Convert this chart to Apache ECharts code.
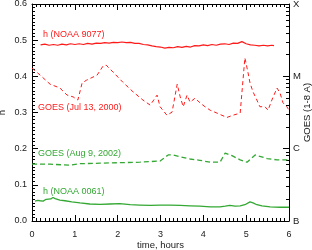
<!DOCTYPE html>
<html><head><meta charset="utf-8">
<script src="https://cdn.jsdelivr.net/npm/echarts@6/dist/echarts.min.js"></script>
<style>html,body{margin:0;padding:0;background:#fff}#c{width:312px;height:250px}</style>
</head><body><div id="c"></div>
<script>
// time axis (hours)
const xTicks = [0, 1, 2, 3, 4, 5, 6];
const hTicks = [0.0, 0.1, 0.2, 0.3, 0.4, 0.5, 0.6];
const goesClassLabels = {'-7': 'B', '-6': 'C', '-5': 'M', '-4': 'X'};

// h (NOAA 9077), red solid
const h9077Time = [0.2,0.3,0.4,0.5,0.6,0.7,0.8,0.9,1.0,1.1,1.2,1.3,1.4,1.5,1.6,1.7,1.8,1.9,2.0,2.1,2.2,2.3,2.4,2.5,2.6,2.7,2.8,2.9,3.0,3.1,3.2,3.3,3.4,3.5,3.6,3.7,3.8,3.9,4.0,4.1,4.2,4.3,4.4,4.5,4.6,4.7,4.8,4.9,5.0,5.1,5.2,5.3,5.4,5.5,5.6,5.65];
const h9077 = [0.487,0.489,0.486,0.488,0.486,0.489,0.487,0.490,0.488,0.490,0.488,0.491,0.489,0.492,0.491,0.493,0.492,0.494,0.493,0.495,0.493,0.494,0.491,0.491,0.488,0.487,0.484,0.482,0.481,0.478,0.480,0.479,0.482,0.480,0.483,0.481,0.485,0.484,0.487,0.485,0.488,0.486,0.489,0.490,0.488,0.492,0.491,0.496,0.490,0.487,0.486,0.484,0.486,0.484,0.486,0.485];

// GOES 1-8 A flux (W/m^2), Jul 13 2000, red dashed
const goes2000Time = [0.00,0.19,0.42,0.65,0.82,0.96,1.07,1.17,1.28,1.52,1.66,1.73,1.89,2.12,2.36,2.59,2.76,2.92,2.99,3.15,3.27,3.39,3.46,3.53,3.62,3.69,3.81,3.92,4.04,4.16,4.32,4.55,4.69,4.86,4.97,5.04,5.09,5.16,5.25,5.32,5.44,5.51,5.60,5.72,5.79,5.86,5.95,6.00];
const goes2000 = [1.30e-5,1.04e-5,7.8e-6,6.9e-6,5.5e-6,5.2e-6,4.7e-6,8.1e-6,8.9e-6,1.04e-5,1.39e-5,1.43e-5,1.15e-5,8.3e-6,6.1e-6,4.7e-6,4.0e-6,5.5e-6,3.8e-6,2.9e-6,3.2e-6,7.8e-6,5.2e-6,3.8e-6,5.5e-6,4.4e-6,5.0e-6,4.3e-6,3.8e-6,3.4e-6,3.1e-6,2.7e-6,2.9e-6,3.1e-6,1.8e-5,1.15e-5,8.1e-6,6.1e-6,4.7e-6,3.8e-6,3.8e-6,3.4e-6,4.7e-6,6.9e-6,5.9e-6,4.3e-6,3.8e-6,3.4e-6];

// GOES 1-8 A flux (W/m^2), Aug 9 2002, green dashed
const goes2002Time = [0.00,0.42,0.89,1.12,1.59,2.05,2.52,2.99,3.18,3.29,3.46,3.69,3.92,4.16,4.39,4.51,4.67,4.86,5.02,5.21,5.49,5.72,6.00];
const goes2002 = [6.1e-7,6.1e-7,5.9e-7,6.2e-7,6.3e-7,6.4e-7,6.5e-7,6.75e-7,8.2e-7,8.2e-7,7.7e-7,7.2e-7,6.9e-7,6.5e-7,6.5e-7,8.7e-7,8.0e-7,7.0e-7,6.5e-7,8.2e-7,7.3e-7,7.0e-7,7.0e-7];

// h (NOAA 0061), green solid
const h0061Time = [0.07,0.13,0.19,0.26,0.33,0.37,0.44,0.49,0.54,0.58,0.65,0.77,0.93,1.12,1.35,1.59,1.82,2.05,2.29,2.52,2.76,2.99,3.22,3.46,3.69,3.92,4.16,4.39,4.51,4.62,4.74,4.86,4.97,5.09,5.16,5.25,5.37,5.56,5.79,6.00];
const h0061 = [0.055,0.057,0.056,0.055,0.060,0.063,0.061,0.065,0.062,0.061,0.058,0.056,0.053,0.050,0.047,0.046,0.047,0.048,0.045,0.044,0.043,0.044,0.044,0.043,0.042,0.041,0.039,0.039,0.041,0.043,0.041,0.042,0.045,0.053,0.050,0.045,0.042,0.039,0.038,0.038];

// GOES class axis works in decades (log10 of flux)
const goesMinorTicks = [];
[-7, -6, -5].forEach(function (d) { for (let k = 2; k <= 9; k++) goesMinorTicks.push(d + Math.log10(k)); });

function zip(a, b) { return a.map(function (t, i) { return [t, b[i]]; }); }
function zipLog(a, b) { return a.map(function (t, i) { return [t, Math.log10(b[i])]; }); }

const RED = '#ff1a1a', GREEN = '#33a833', INK = '#1a1a1a', TICK = '#000';
const FONT = 'Liberation Sans';

const chart = echarts.init(document.getElementById('c'));

chart.setOption({
  animation: false,
  grid: {left: 32, right: 23, top: 4, bottom: 29, outerBoundsMode: 'none'},
  xAxis: [
    {
      type: 'value', position: 'bottom', min: xTicks[0], max: xTicks[xTicks.length - 1], interval: 1,
      splitLine: {show: false},
      name: 'time, hours', nameLocation: 'middle', nameGap: 19, nameMoveOverlap: false,
      nameTextStyle: {color: INK, fontSize: 9.5, fontFamily: FONT},
      axisLine: {show: true, onZero: false, lineStyle: {color: '#000', width: 1}},
      axisTick: {show: true, inside: true, length: 6, lineStyle: {color: TICK, width: 1}},
      minorTick: {show: true, splitNumber: 10, length: 3, lineStyle: {color: TICK, width: 1}},
      axisLabel: {color: INK, fontSize: 9, fontFamily: FONT, margin: 9}
    },
    {
      type: 'value', position: 'top', min: xTicks[0], max: xTicks[xTicks.length - 1], interval: 1,
      splitLine: {show: false},
      axisLine: {show: true, onZero: false, lineStyle: {color: '#000', width: 1}},
      axisTick: {show: true, inside: true, length: 6, lineStyle: {color: TICK, width: 1}},
      minorTick: {show: true, splitNumber: 10, length: 3, lineStyle: {color: TICK, width: 1}},
      axisLabel: {show: false}
    }
  ],
  yAxis: [
    {
      type: 'value', position: 'left', min: hTicks[0], max: hTicks[hTicks.length - 1], interval: 0.1,
      splitLine: {show: false},
      name: 'h', nameLocation: 'middle', nameGap: 25, nameRotate: 90, nameMoveOverlap: false,
      nameTextStyle: {color: INK, fontSize: 9.5, fontFamily: FONT},
      axisLine: {show: true, onZero: false, lineStyle: {color: '#000'}},
      axisTick: {show: true, inside: true, length: 6, lineStyle: {color: TICK, width: 1}},
      minorTick: {show: true, splitNumber: 10, length: 3, lineStyle: {color: TICK, width: 1}},
      axisLabel: {color: INK, fontSize: 9, fontFamily: FONT, margin: 5,
        formatter: function (v) { return v.toFixed(1); }}
    },
    {
      type: 'value', position: 'right', min: -7, max: -4, interval: 1,
      splitLine: {show: false},
      name: 'GOES (1-8 A)', nameLocation: 'middle', nameGap: 13, nameRotate: 90, nameMoveOverlap: false,
      nameTextStyle: {color: INK, fontSize: 9.5, fontFamily: FONT},
      axisLine: {show: true, onZero: false, lineStyle: {color: '#000'}},
      axisTick: {show: true, inside: true, length: 6, lineStyle: {color: TICK, width: 1}},
      minorTick: {show: false},
      axisLabel: {color: INK, fontSize: 9.5, fontFamily: FONT, margin: 4,
        formatter: function (v) { return goesClassLabels[String(Math.round(v))] || ''; }}
    },
    {
      type: 'value', position: 'right', min: -7, max: -4,
      splitLine: {show: false},
      axisLine: {show: false, onZero: false},
      axisLabel: {show: false},
      axisTick: {show: true, inside: true, length: 3, customValues: goesMinorTicks, lineStyle: {color: TICK, width: 1}}
    }
  ],
  graphic: [
    {type: 'text', left: 43, top: 30, style: {text: 'h (NOAA 9077)', fill: RED, font: '9px ' + FONT}},
    {type: 'text', left: 38, top: 103, style: {text: 'GOES (Jul 13, 2000)', fill: RED, font: '9px ' + FONT}},
    {type: 'text', left: 38, top: 149, style: {text: 'GOES (Aug 9, 2002)', fill: GREEN, font: '9px ' + FONT}},
    {type: 'text', left: 43, top: 187, style: {text: 'h (NOAA 0061)', fill: GREEN, font: '9px ' + FONT}}
  ],
  series: [
    {type: 'line', xAxisIndex: 0, yAxisIndex: 0, data: zip(h9077Time, h9077), symbol: 'none',
      lineStyle: {color: RED, width: 1.2}},
    {type: 'line', xAxisIndex: 0, yAxisIndex: 1, data: zipLog(goes2000Time, goes2000), symbol: 'none',
      lineStyle: {color: RED, width: 1, type: [4, 3]}},
    {type: 'line', xAxisIndex: 0, yAxisIndex: 1, data: zipLog(goes2002Time, goes2002), symbol: 'none',
      lineStyle: {color: GREEN, width: 1.3, type: [5, 3]}},
    {type: 'line', xAxisIndex: 0, yAxisIndex: 0, data: zip(h0061Time, h0061), symbol: 'none',
      lineStyle: {color: GREEN, width: 1.3}}
  ]
});
</script></body></html>
